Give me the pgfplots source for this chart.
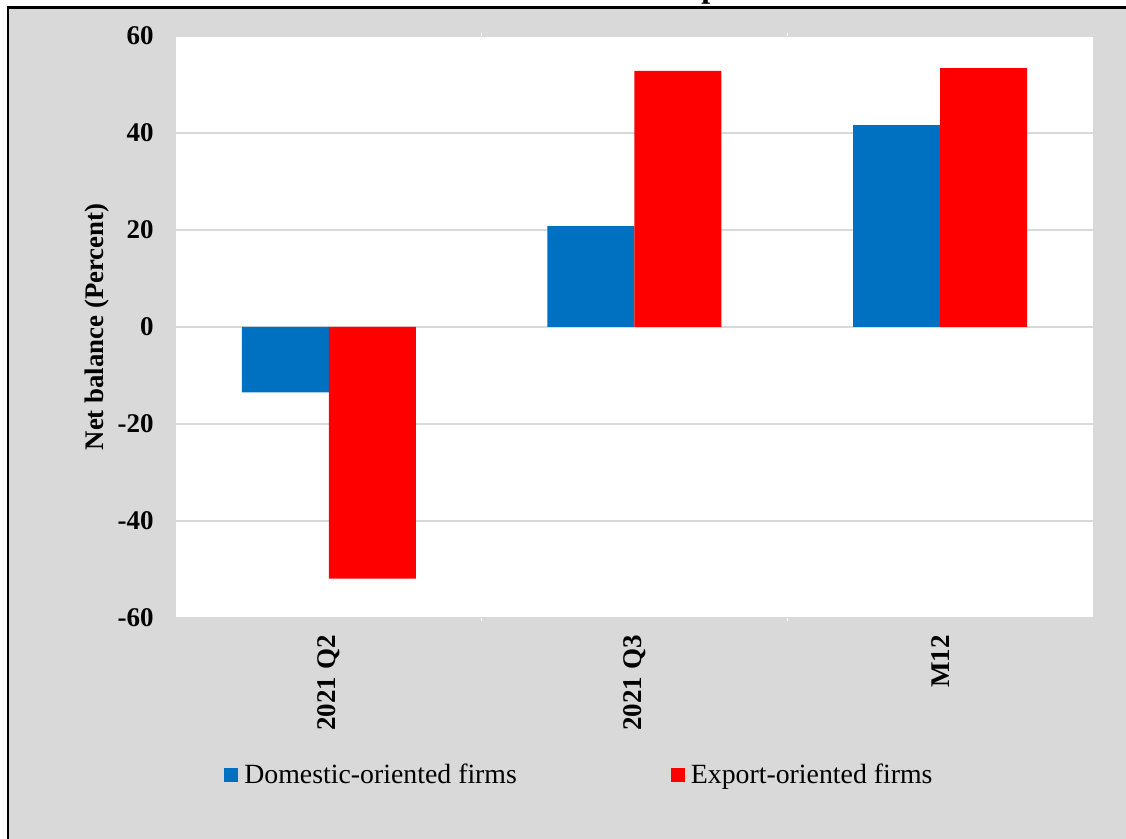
\documentclass[border=0pt]{standalone}
\usepackage{pgfplots}
\pgfplotsset{compat=1.18}
\usepackage{fontspec}
\setmainfont{Liberation Serif}
\definecolor{bgray}{HTML}{D9D9D9}
\definecolor{cblue}{HTML}{0070C0}
\definecolor{cred}{HTML}{FF0000}
\begin{document}
\begin{tikzpicture}
\path[use as bounding box] (0,0) rectangle (563pt,419.5pt);
\clip (0,0) rectangle (563pt,419.5pt);
\node[anchor=base west, inner sep=0pt, font=\fontsize{16}{18}\selectfont\bfseries] at (10pt,420.6pt) {Chart 5: Business Confidence of Domestic and Export-Oriented Firms};
\draw[fill=bgray, draw=black, line width=1.25pt] (4pt,415.75pt) rectangle (575pt,-10pt);
\begin{axis}[
  at={(88pt,110.5pt)}, anchor=south west,
  scale only axis, width=458.5pt, height=291pt,
  ybar=0pt, bar width=43.5pt,
  xmin=-0.5, xmax=2.5, ymin=-60, ymax=60,
  xtick={0,1,2}, xticklabels={2021 Q2,2021 Q3,M12},
  minor xtick={0.5,1.5},
  ytick={-60,-40,-20,0,20,40,60},
  axis background/.style={fill=white},
  axis line style={draw=none},
  ymajorgrids, major grid style={bgray, line width=0.75pt},
  major tick length=0pt, minor tick length=1.5pt, tick align=outside,
  minor tick style={white, line width=0.5pt},
  /pgf/number format/assume math mode=true,
  tick label style={font=\fontsize{13.5}{15}\selectfont\bfseries},
  yticklabel style={anchor=east, inner sep=0pt},
  yticklabel shift=11pt,
  xticklabel style={anchor=east, rotate=90, inner sep=0pt},
  xticklabel shift=8.5pt,
  ylabel={Net balance (Percent)},
  every axis y label/.style={at={(axis description cs:0,0.5)}, xshift=-39.5pt, rotate=90, anchor=center, font=\fontsize{13.4}{15}\selectfont\bfseries},
  legend columns=2,
  legend style={at={(axis description cs:0.05234,-0.2698)}, anchor=west, draw=none, fill=none, inner sep=0pt,
    font=\fontsize{13.9}{15}\selectfont,
    nodes={inner xsep=3pt, inner ysep=0pt},
    /tikz/every even column/.append style={column sep=74pt}},
  legend image code/.code={\fill[#1, draw=none] (0pt,-3.5pt) rectangle (7pt,3.5pt);},
]
\addplot[fill=cblue, draw=none] coordinates {(0,-13.5) (1,20.8) (2,41.6)};
\addplot[fill=cred, draw=none] coordinates {(0,-51.9) (1,52.8) (2,53.4)};
\legend{Domestic-oriented firms, Export-oriented firms}
\end{axis}
\end{tikzpicture}
\end{document}
